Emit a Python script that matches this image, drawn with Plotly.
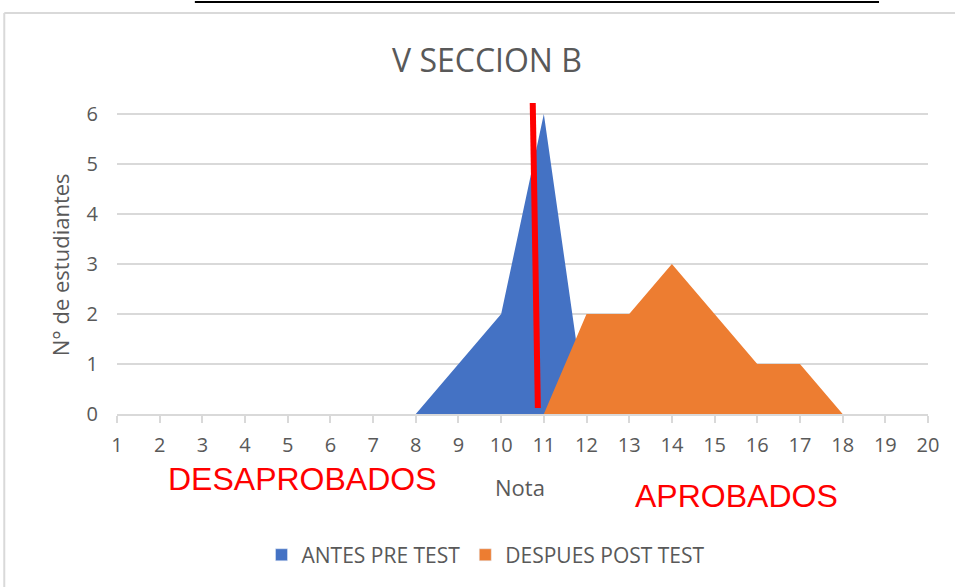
import plotly.graph_objects as go

notas = list(range(1, 21))
antes_pre_test = [0, 0, 0, 0, 0, 0, 0, 0, 1, 2, 6, 0, 0, 0, 0, 0, 0, 0, 0, 0]
despues_post_test = [0, 0, 0, 0, 0, 0, 0, 0, 0, 0, 0, 2, 2, 3, 2, 1, 1, 0, 0, 0]
y_ticks = [0, 1, 2, 3, 4, 5, 6]

# red divider line (hand-drawn marker in the original), in data units
corte_x = [10.74, 10.86]
corte_y = [6.22, 0.12]

BLUE = "#4472C4"
ORANGE = "#ED7D31"
GRAY_TXT = "#595959"
GRID = "#D9D9D9"
FONT = "Open Sans"

fig = go.Figure()
fig.add_trace(go.Scatter(x=notas, y=antes_pre_test, name="ANTES PRE TEST",
                         mode="lines", fill="tozeroy", fillcolor=BLUE,
                         line=dict(width=0, color=BLUE), showlegend=False))
fig.add_trace(go.Scatter(x=notas, y=despues_post_test, name="DESPUES POST TEST",
                         mode="lines", fill="tozeroy", fillcolor=ORANGE,
                         line=dict(width=0, color=ORANGE), showlegend=False))
# legend entries with square swatches
fig.add_trace(go.Bar(x=[None], y=[None], name="ANTES PRE TEST", marker_color=BLUE))
fig.add_trace(go.Bar(x=[None], y=[None], name="DESPUES POST TEST", marker_color=ORANGE))

fig.add_shape(type="line", xref="x", yref="y",
              x0=corte_x[0], y0=corte_y[0], x1=corte_x[1], y1=corte_y[1],
              line=dict(color="#FF0000", width=6))

# chart frame (left and top light border) and black line above
fig.add_shape(type="line", xref="paper", yref="paper", x0=-0.139, x1=1.1, y0=1.273, y1=1.273,
              line=dict(color=GRID, width=2))
fig.add_shape(type="line", xref="paper", yref="paper", x0=-0.139, x1=-0.139, y0=1.273, y1=-0.7,
              line=dict(color=GRID, width=2))
fig.add_shape(type="line", xref="paper", yref="paper", x0=0.096, x1=0.9396, y0=1.308, y1=1.308,
              line=dict(color="black", width=2))

fig.add_annotation(text="V SECCION B", xref="paper", yref="paper", x=0.456, y=1.124,
                   showarrow=False, font=dict(family=FONT, size=32, color=GRAY_TXT),
                   xanchor="center", yanchor="middle")
fig.add_annotation(text="N° de estudiantes", xref="paper", yref="paper", x=-0.07, y=0.473,
                   textangle=-90, showarrow=False, font=dict(family=FONT, size=22, color=GRAY_TXT),
                   xanchor="center", yanchor="middle")
fig.add_annotation(text="Nota", xref="paper", yref="paper", x=0.497, y=-0.232,
                   showarrow=False, font=dict(family=FONT, size=22, color=GRAY_TXT),
                   xanchor="center", yanchor="middle")
fig.add_annotation(text="DESAPROBADOS", xref="paper", yref="paper", x=0.229, y=-0.206,
                   showarrow=False, font=dict(family="Liberation Sans", size=32, color="#FF0000"),
                   xanchor="center", yanchor="middle")
fig.add_annotation(text="APROBADOS", xref="paper", yref="paper", x=0.764, y=-0.26,
                   showarrow=False, font=dict(family="Liberation Sans", size=32, color="#FF0000"),
                   xanchor="center", yanchor="middle")

fig.update_layout(
    width=955, height=587,
    margin=dict(l=117, r=27, t=99, b=173),
    paper_bgcolor="white", plot_bgcolor="white",
    showlegend=True,
    legend=dict(orientation="h", x=0.455, y=-0.448, xanchor="center", yanchor="middle",
                font=dict(family=FONT, size=21, color=GRAY_TXT), itemwidth=30,
                tracegroupgap=0),
    xaxis=dict(range=[1, 20], tickmode="array", tickvals=notas, ticktext=[str(n) for n in notas],
               showgrid=False, zeroline=False, showline=True, linecolor=GRID, linewidth=1.5,
               ticks="outside", ticklen=7, tickcolor=GRID, tickwidth=1.5,
               ticklabelstandoff=5,
               tickfont=dict(family=FONT, size=20, color=GRAY_TXT), fixedrange=True),
    yaxis=dict(range=[0, 6.3], tickmode="array", tickvals=y_ticks,
               showgrid=True, gridcolor=GRID, gridwidth=1.5, zeroline=False,
               showline=False, ticks="", ticklabelstandoff=18,
               tickfont=dict(family=FONT, size=20, color=GRAY_TXT), fixedrange=True),
)

fig.write_html("out.html", config={"displayModeBar": False},
               post_script="document.body.style.margin='0px';")
